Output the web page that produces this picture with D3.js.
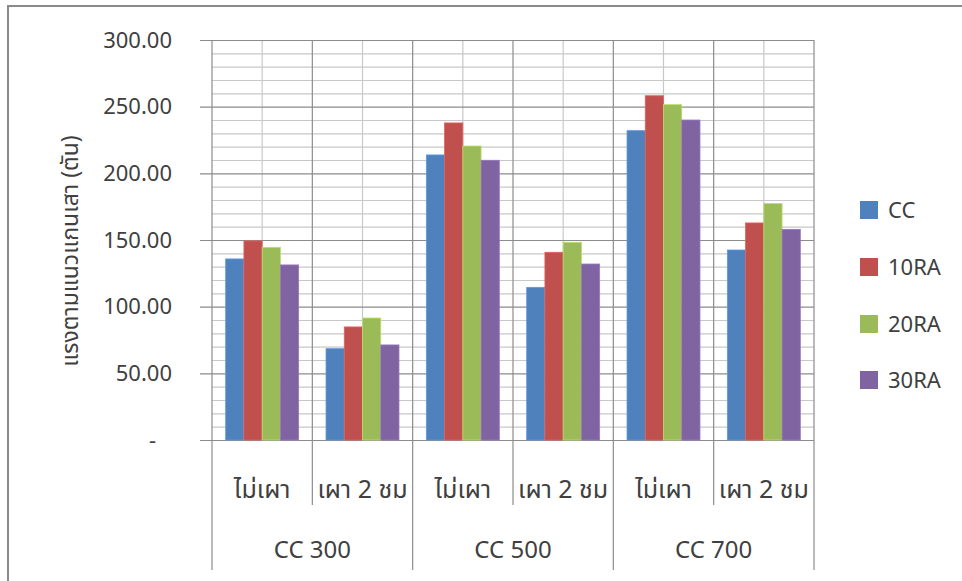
<!DOCTYPE html>
<html>
<head>
<meta charset="utf-8">
<script src="https://cdn.jsdelivr.net/npm/d3@7"></script>
<style>
  body { margin: 0; background: #fff; }
  svg { display: block; font-family: "Noto Sans", "Noto Sans Thai", "DejaVu Sans", sans-serif; }
</style>
</head>
<body>
<svg width="962" height="581"></svg>
<script>
// data
var groups = ['CC 300', 'CC 500', 'CC 700'];
var subCats = ['ไม่เผา', 'เผา 2 ชม'];
var series = ['CC', '10RA', '20RA', '30RA'];
var colors = ['#4f81bd', '#c0504d', '#9bbb59', '#8064a2'];
var yTicks = [0, 50, 100, 150, 200, 250, 300];

var valCC   = [135.8, 68.5, 213.8, 114.5, 232.0, 142.5];
var val10RA = [149.3, 84.8, 237.8, 140.8, 258.2, 162.8];
var val20RA = [144.5, 91.5, 220.5, 148.3, 251.5, 177.3];
var val30RA = [131.3, 71.3, 209.8, 132.0, 240.0, 158.0];
var allVals = [valCC, val10RA, val20RA, val30RA];

var svg = d3.select('svg');
var pLeft = 212, pRight = 814, pTop = 40, pBottom = 440;
var fs = 22;

// frame
svg.append('path').attr('d', 'M8,581 V6 H962').attr('fill', 'none').attr('stroke', '#8a8a8a').attr('stroke-width', 2);

var cats = [];
groups.forEach(function (g) { subCats.forEach(function (s) { cats.push(g + '|' + s); }); });

var x = d3.scaleBand().domain(cats).range([pLeft, pRight]);
var xs = d3.scaleBand().domain(series).range([0, x.bandwidth()]).paddingInner(0).paddingOuter(0.75);
var y = d3.scaleLinear().domain([0, 300]).range([pBottom, pTop]);

// horizontal grid, minor then major
var minor = d3.range(0, 301, 10).filter(function (v) { return v % 50 !== 0; });
svg.append('g').selectAll('line').data(minor).enter().append('line')
  .attr('x1', pLeft).attr('x2', pRight)
  .attr('y1', function (d) { return y(d) + 0.5; }).attr('y2', function (d) { return y(d) + 0.5; })
  .attr('stroke', '#c8c8c8').attr('stroke-width', 1.2);

// vertical grid at half-category
var halves = cats.map(function (c) { return x(c) + x.bandwidth() / 2; });
svg.append('g').selectAll('line').data(halves).enter().append('line')
  .attr('x1', function (d) { return d; }).attr('x2', function (d) { return d; })
  .attr('y1', pTop).attr('y2', pBottom)
  .attr('stroke', '#c8c8c8').attr('stroke-width', 1.2);

svg.append('g').selectAll('line').data(yTicks).enter().append('line')
  .attr('x1', pLeft - 12).attr('x2', pRight)
  .attr('y1', function (d) { return y(d) + 0.5; }).attr('y2', function (d) { return y(d) + 0.5; })
  .attr('stroke', '#8c8c8c').attr('stroke-width', 1.2);

var bounds = cats.map(function (c) { return x(c); }).concat([pRight]);
svg.append('g').selectAll('line').data(bounds).enter().append('line')
  .attr('x1', function (d) { return d; }).attr('x2', function (d) { return d; })
  .attr('y1', pTop).attr('y2', function (d, i) { return i % 2 === 0 ? 570 : 505; })
  .attr('stroke', '#8c8c8c').attr('stroke-width', 1.2);

// bars
series.forEach(function (s, si) {
  svg.append('g').selectAll('rect').data(allVals[si]).enter().append('rect')
    .attr('x', function (d, i) { return x(cats[i]) + xs(s); })
    .attr('width', xs.bandwidth())
    .attr('y', function (d) { return y(d); })
    .attr('height', function (d) { return y(0) - y(d); })
    .attr('fill', colors[si])
    .attr('stroke', d3.color(colors[si]).brighter(0.5)).attr('stroke-width', 0.8);
});

// y tick labels
svg.append('g').selectAll('text').data(yTicks).enter().append('text')
  .attr('x', function (d) { return d === 0 ? 156 : 172; }).attr('y', function (d) { return y(d); })
  .attr('dy', '0.35em').attr('text-anchor', 'end')
  .attr('font-size', fs).attr('fill', '#404040')
  .text(function (d) { return d === 0 ? '-' : d.toFixed(2); });

// y axis title
svg.append('text')
  .attr('transform', 'translate(70,251) rotate(-90)')
  .attr('text-anchor', 'middle').attr('dy', '0.35em')
  .attr('font-size', 23).attr('fill', '#404040')
  .text('แรงตามแนวแกนเสา (ตัน)');

// category labels
svg.append('g').selectAll('text').data(cats).enter().append('text')
  .attr('x', function (d) { return x(d) + x.bandwidth() / 2; })
  .attr('y', 489).attr('dy', '0.35em').attr('text-anchor', 'middle')
  .attr('font-size', 25).attr('fill', '#404040')
  .text(function (d) { return d.split('|')[1]; });

svg.append('g').selectAll('text').data(groups).enter().append('text')
  .attr('x', function (d) { return x(d + '|' + subCats[0]) + x.bandwidth(); })
  .attr('y', 550).attr('dy', '0.35em').attr('text-anchor', 'middle')
  .attr('font-size', 24).attr('fill', '#404040')
  .text(function (d) { return d; });

// legend
var legendY = [210, 267, 324, 380];
var lg = svg.append('g').selectAll('g').data(series).enter().append('g')
  .attr('transform', function (d, i) { return 'translate(860,' + legendY[i] + ')'; });
lg.append('rect').attr('x', 0).attr('y', -9).attr('width', 18).attr('height', 18)
  .attr('fill', function (d, i) { return colors[i]; });
lg.append('text').attr('x', 28).attr('dy', '0.35em')
  .attr('font-size', fs).attr('fill', '#404040')
  .text(function (d) { return d; });
</script>
</body>
</html>
